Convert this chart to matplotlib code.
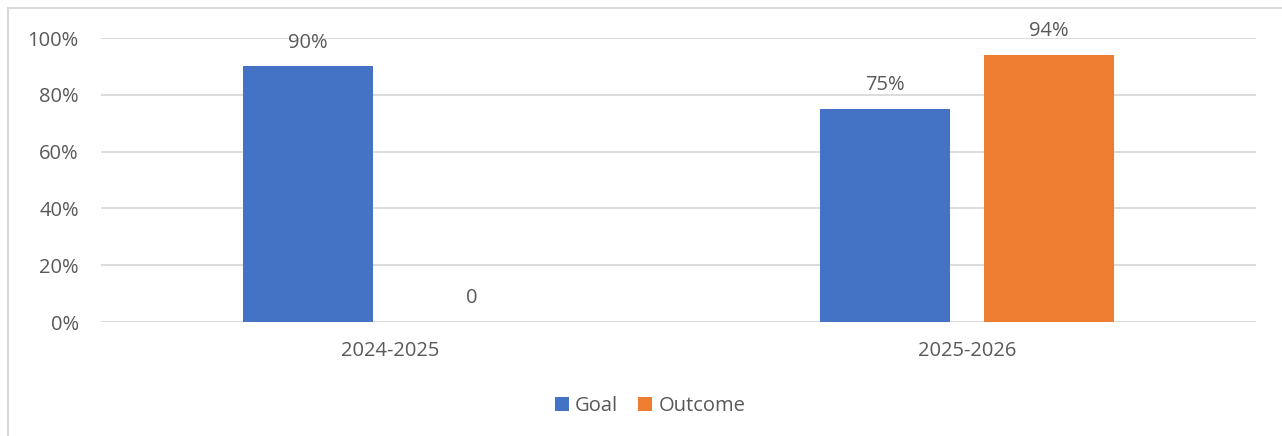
import numpy as np
import matplotlib.pyplot as plt
from matplotlib.patches import Rectangle
from matplotlib.ticker import PercentFormatter

plt.rcParams['font.family'] = ['Open Sans', 'DejaVu Sans']

# data
years = ['2024-2025', '2025-2026']
goal = [0.90, 0.75]
outcome = [0.0, 0.94]

blue = '#4472C4'
orange = '#ED7D31'
text_col = '#595959'
grid_col = '#D9D9D9'
fs = 14.5


def fmt(v):
    return f'{v:.0%}' if v else '0'


fig = plt.figure(figsize=(12.82, 4.36), dpi=100)
ax = fig.add_axes([101 / 1282, 1 - 322 / 436, 1155 / 1282, 284 / 436])

x = np.arange(len(years))
w = 0.225
off = 0.142
b1 = ax.bar(x - off, goal, w, color=blue, label='Goal', zorder=3)
b2 = ax.bar(x + off, outcome, w, color=orange, label='Outcome', zorder=3)

for bars, vals in ((b1, goal), (b2, outcome)):
    for rect, v in zip(bars, vals):
        ax.annotate(fmt(v), (rect.get_x() + rect.get_width() / 2, v),
                    xytext=(0, 17), textcoords='offset points',
                    ha='center', va='center', fontsize=fs, color=text_col)

ax.set_xlim(-0.5, 1.5)
ax.set_ylim(0, 1)
ax.set_yticks(np.arange(0, 1.01, 0.2))
ax.yaxis.set_major_formatter(PercentFormatter(1.0, decimals=0))
ax.set_xticks(x)
ax.set_xticklabels(years)
ax.grid(axis='y', color=grid_col, linewidth=1.3, zorder=0)
ax.tick_params(length=0, labelsize=fs, labelcolor=text_col)
ax.tick_params(axis='y', pad=16)
ax.tick_params(axis='x', pad=14)
for s in ax.spines.values():
    s.set_visible(False)

leg = fig.legend(loc='center', bbox_to_anchor=(650 / 1282, 1 - 406 / 436),
                 ncol=2, frameon=False, fontsize=fs, handlelength=0.7,
                 handleheight=0.7, handletextpad=0.3, columnspacing=1.0)
for t in leg.get_texts():
    t.set_color(text_col)

# outer chart frame
fig.patches.append(Rectangle((7.5 / 1282, -0.1), 1.2, 1.1 - 8.5 / 436,
                             transform=fig.transFigure, fill=False,
                             edgecolor=grid_col, linewidth=1.5))

fig.savefig('out.png', dpi=100)
